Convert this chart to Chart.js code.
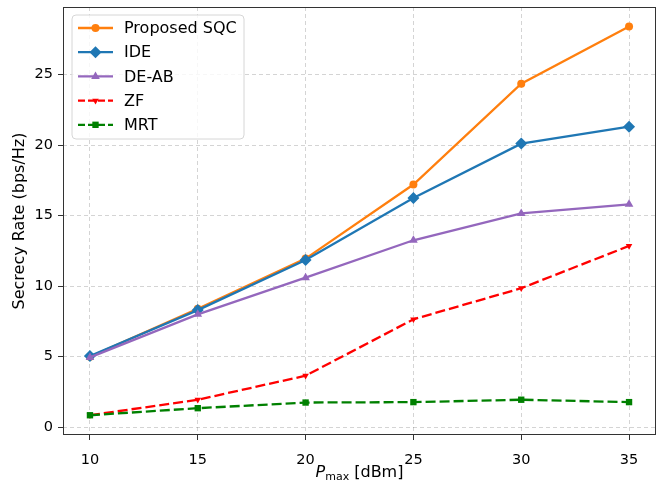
<!DOCTYPE html>
<html>
<head>
<meta charset="utf-8">
<script src="https://cdn.jsdelivr.net/npm/chart.js@4.4.1/dist/chart.umd.min.js"></script>
<style>
  html, body { margin: 0; padding: 0; background: #fff; }
  #wrap { width: 666px; height: 480px; }
</style>
</head>
<body>
<div id="wrap"><canvas id="chart" width="666" height="480"></canvas></div>
<script>
// data
const pmax = [10, 15, 20, 25, 30, 35];
const proposedSQC = [5.0, 8.4, 11.95, 17.2, 24.35, 28.4];
const ide = [5.05, 8.3, 11.85, 16.25, 20.1, 21.3];
const deAB = [4.95, 8.0, 10.6, 13.25, 15.15, 15.8];
const zf = [0.85, 1.95, 3.65, 7.65, 9.85, 12.85];
const mrt = [0.85, 1.35, 1.75, 1.78, 1.95, 1.78];
const xTicks = [10, 15, 20, 25, 30, 35];
const yTicks = [0, 5, 10, 15, 20, 25];

const FONT = '"DejaVu Sans", sans-serif';

const seriesList = [
    { label: 'Proposed SQC', data: proposedSQC, color: '#ff7f0e', style: 'circle', radius: 4, rot: 0, dash: [] },
    { label: 'IDE', data: ide, color: '#1f77b4', style: 'rectRot', radius: 6, rot: 0, dash: [] },
    { label: 'DE-AB', data: deAB, color: '#9467bd', style: 'triangle', radius: 5, rot: 0, dash: [] },
    { label: 'ZF', data: zf, color: '#ff0000', style: 'triangle', radius: 3.8, rot: 180, dash: [10, 4] },
    { label: 'MRT', data: mrt, color: '#008000', style: 'rect', radius: 4.5, rot: 0, dash: [10, 4] }
];

const datasets = seriesList.map((s, i) => ({
    label: s.label,
    data: s.data.map((v, j) => ({ x: pmax[j], y: v })),
    borderColor: s.color,
    backgroundColor: s.color,
    borderWidth: 2.3,
    borderDash: s.dash,
    pointStyle: s.style,
    pointRadius: s.radius,
    pointRotation: s.rot,
    pointBorderWidth: 0,
    pointBackgroundColor: s.color,
    tension: 0,
    order: seriesList.length - 1 - i
}));

// frame on all four sides + matplotlib-like legend + x title with subscript
const extras = {
    id: 'extras',
    afterDraw(chart) {
        const ctx = chart.ctx;
        const a = chart.chartArea;
        ctx.save();
        ctx.strokeStyle = '#333';
        ctx.lineWidth = 1;
        ctx.strokeRect(Math.round(a.left) + 0.5, Math.round(a.top) + 0.5,
            Math.round(a.right - a.left) - 1, Math.round(a.bottom - a.top) - 1);

        // legend box
        const bx = 72, by = 15, bw = 172, bh = 124, r = 4;
        ctx.beginPath();
        ctx.moveTo(bx + r, by);
        ctx.arcTo(bx + bw, by, bx + bw, by + bh, r);
        ctx.arcTo(bx + bw, by + bh, bx, by + bh, r);
        ctx.arcTo(bx, by + bh, bx, by, r);
        ctx.arcTo(bx, by, bx + bw, by, r);
        ctx.closePath();
        ctx.fillStyle = 'rgba(255,255,255,0.8)';
        ctx.fill();
        ctx.strokeStyle = '#d6d6d6';
        ctx.stroke();

        ctx.font = '16px ' + FONT;
        ctx.textBaseline = 'middle';
        ctx.textAlign = 'left';
        seriesList.forEach((s, i) => {
            const y = 28 + i * 24.2;
            ctx.strokeStyle = s.color;
            ctx.lineWidth = 2.3;
            ctx.setLineDash(s.dash.length ? [7, 3] : []);
            ctx.beginPath();
            ctx.moveTo(78, y);
            ctx.lineTo(113, y);
            ctx.stroke();
            ctx.setLineDash([]);
            ctx.fillStyle = s.color;
            Chart.helpers.drawPoint(ctx, {
                pointStyle: s.style, radius: s.radius, rotation: s.rot, borderWidth: 0
            }, 95.5, y);
            ctx.fillStyle = '#000';
            ctx.fillText(s.label, 124, y + 1);
        });

        // x axis title: P_max [dBm]
        const base = 477;
        const parts = [
            { t: 'P', f: 'italic 16px ' + FONT, dy: 0 },
            { t: 'max', f: '11px ' + FONT, dy: 3 },
            { t: ' [dBm]', f: '16px ' + FONT, dy: 0 }
        ];
        let total = 0;
        parts.forEach(p => { ctx.font = p.f; p.w = ctx.measureText(p.t).width; total += p.w; });
        let x = (a.left + a.right) / 2 - total / 2;
        ctx.textBaseline = 'alphabetic';
        ctx.fillStyle = '#000';
        parts.forEach(p => {
            ctx.font = p.f;
            ctx.fillText(p.t, x, base + p.dy);
            x += p.w;
        });
        ctx.restore();
    }
};

new Chart(document.getElementById('chart'), {
    type: 'line',
    data: { datasets: datasets },
    options: {
        responsive: false,
        animation: false,
        layout: { padding: { top: 7, right: 10, left: 0, bottom: 0 } },
        plugins: {
            legend: { display: false },
            tooltip: { enabled: false }
        },
        scales: {
            x: {
                type: 'linear',
                min: 8.75,
                max: 36.25,
                afterBuildTicks: s => { s.ticks = xTicks.map(v => ({ value: v })); },
                afterFit: s => { s.height = 45; s.paddingLeft = 0; s.paddingRight = 0; },
                ticks: { color: '#000', font: { family: FONT, size: 14.5 }, padding: 12 },
                grid: { color: 'rgba(0,0,0,0.17)', tickColor: '#333', tickLength: 5, lineWidth: 1 },
                border: { display: false, dash: [4, 3] }
            },
            y: {
                min: -0.55,
                max: 29.78,
                afterBuildTicks: s => { s.ticks = yTicks.map(v => ({ value: v })); },
                afterFit: s => { s.width = 63; s.paddingTop = 0; s.paddingBottom = 0; },
                ticks: { color: '#000', font: { family: FONT, size: 14.5 }, padding: 5 },
                grid: { color: 'rgba(0,0,0,0.17)', tickColor: '#333', tickLength: 5, lineWidth: 1 },
                border: { display: false, dash: [4, 3] },
                title: {
                    display: true,
                    text: 'Secrecy Rate (bps/Hz)',
                    color: '#000',
                    font: { family: FONT, size: 16 },
                    padding: { top: 10, bottom: 0 }
                }
            }
        }
    },
    plugins: [extras]
});
</script>
</body>
</html>
